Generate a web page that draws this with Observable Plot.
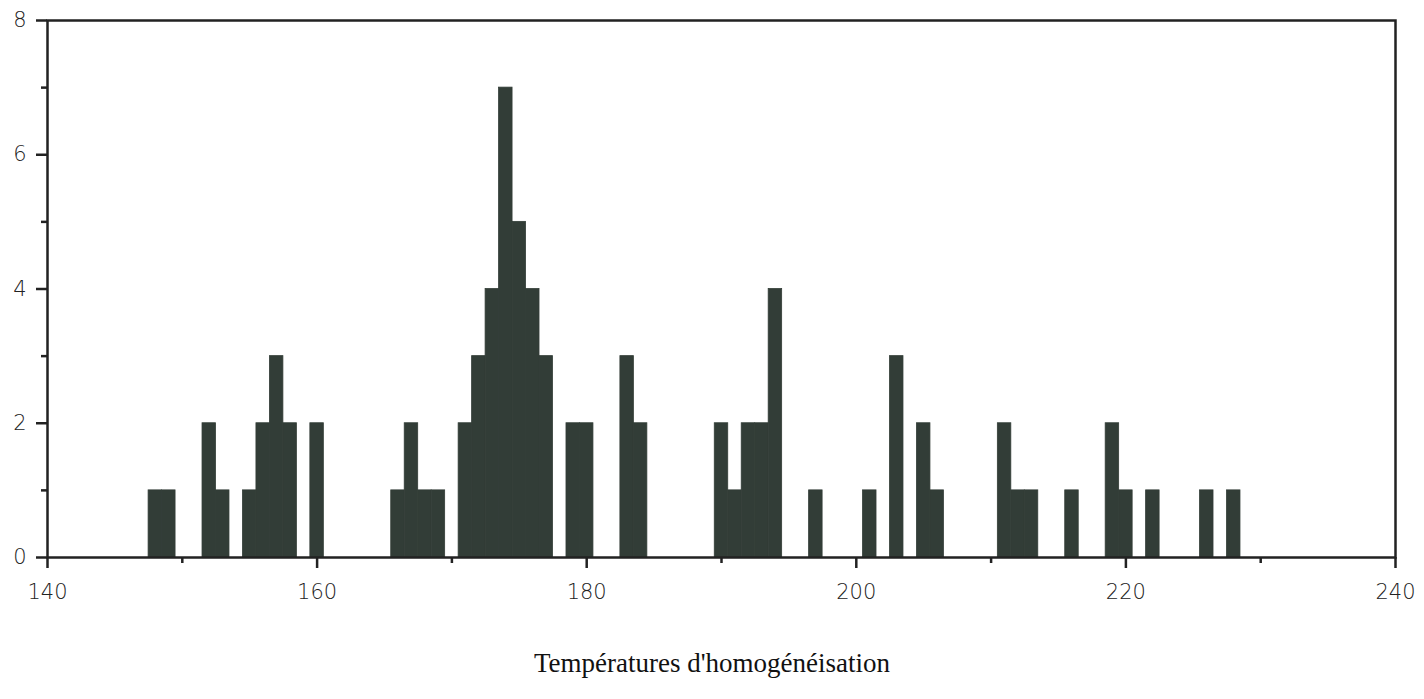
<!DOCTYPE html>
<html>
<head>
<meta charset="utf-8">
<script src="https://cdn.jsdelivr.net/npm/d3@7"></script>
<script src="https://cdn.jsdelivr.net/npm/@observablehq/plot@0.6"></script>
<style>
  html, body { margin: 0; padding: 0; background: #ffffff; }
  #chart svg { display: block; }
  #caption {
    width: 1424px;
    text-align: center;
    font-family: "Liberation Serif", "DejaVu Serif", serif;
    font-size: 27px;
    color: #111;
    margin-top: 18px;
  }
</style>
</head>
<body>
<div id="chart"></div>
<div id="caption">Températures d'homogénéisation</div>
<script>
// Bin centres (°C) and counts
const temps  = [148,149,152,153,155,156,157,158,160,166,167,168,169,171,172,173,174,175,176,177,179,180,183,184,190,191,192,193,194,197,201,203,205,206,211,212,213,216,219,220,222,226,228];
const counts = [1,1,2,1,1,2,3,2,2,1,2,1,1,2,3,4,7,5,4,3,2,2,3,2,2,1,2,2,4,1,1,3,2,1,2,1,1,1,2,1,1,1,1];

const xMajorTicks = [140,160,180,200,220,240];
const xMinorTicks = [150,170,190,210,230];
const yMajorTicks = [0,2,4,6,8];
const yMinorTicks = [1,3,5,7];

const data = temps.map((t, i) => ({t, n: counts[i]}));

const ink = "#222";
const barColor = "#323d37";
const tickFont = "'DejaVu Sans', sans-serif";

const chart = Plot.plot({
  width: 1424,
  height: 630,
  marginLeft: 47,
  marginRight: 29,
  marginTop: 20,
  marginBottom: 73,
  style: {background: "#fff", color: "#222", fontFamily: tickFont},
  x: {domain: [140, 240]},
  y: {domain: [0, 8]},
  marks: [
    Plot.rectY(data, {x1: d => d.t - 0.5, x2: d => d.t + 0.5, y: "n", fill: barColor, stroke: barColor, strokeWidth: 0.8}),
    Plot.axisX({ticks: xMajorTicks, tickSize: 11, tickPadding: 16, fontSize: 21, stroke: ink, fill: "#222", strokeWidth: 2.5, label: null, fontWeight: 300}),
    Plot.axisX({ticks: xMinorTicks, tickSize: 6, tickFormat: () => "", stroke: ink, strokeWidth: 2.5, label: null}),
    Plot.axisY({ticks: yMajorTicks, tickSize: 11, tickPadding: 10, fontSize: 21, stroke: ink, fill: "#222", strokeWidth: 2.5, label: null, fontWeight: 300}),
    Plot.axisY({ticks: yMinorTicks, tickSize: 6, tickFormat: () => "", stroke: ink, strokeWidth: 2.5, label: null}),
    Plot.frame({stroke: ink, strokeWidth: 2.5})
  ]
});
document.getElementById("chart").appendChild(chart);
</script>
</body>
</html>
